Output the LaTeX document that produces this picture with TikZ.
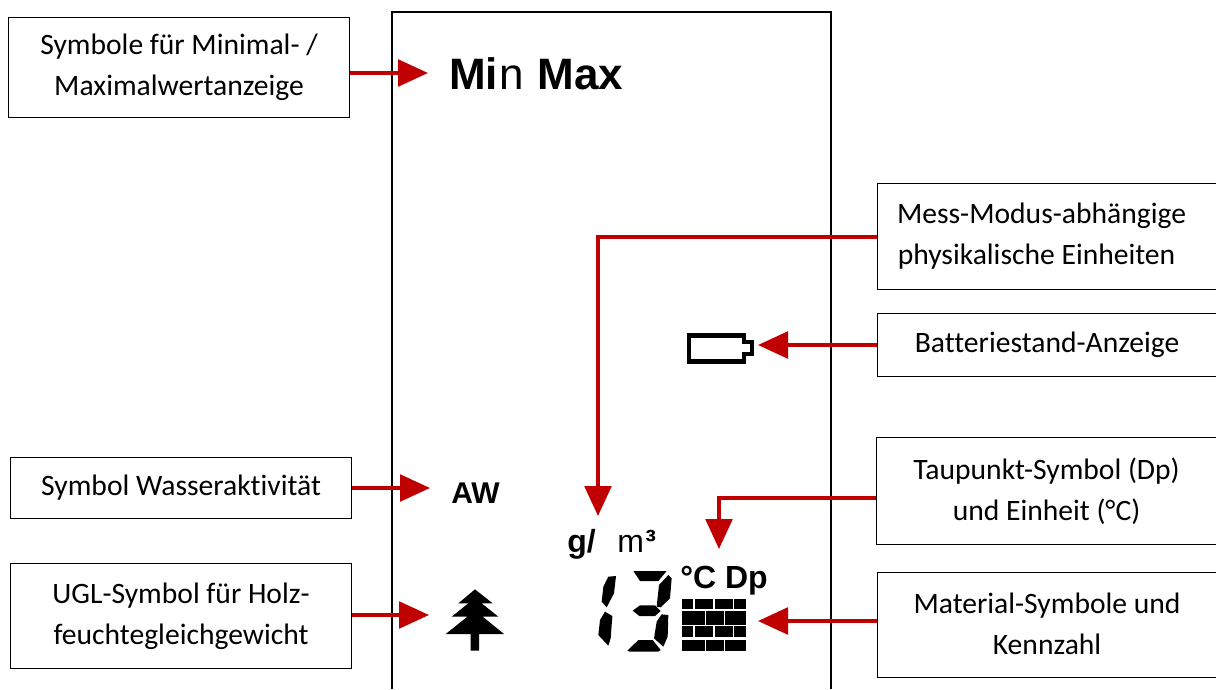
\documentclass[tikz,border=0pt]{standalone}
\usepackage{fontspec}
\setmainfont[Ligatures=NoCommon]{Carlito}
\newfontfamily\lcdfont{Liberation Sans}
\usetikzlibrary{arrows.meta}
\definecolor{arrowred}{RGB}{192,0,0}
\tikzset{
  labelbox/.style={draw=black,line width=1.1pt*0.75,fill=white,align=center,font=\fontsize{22.2}{30.75}\selectfont,inner sep=0pt,anchor=north west},
  pointer/.style={draw=arrowred,line width=2.7pt,-{Triangle[length=22.5pt,width=20pt]}},
  lcdtext/.style={font=\lcdfont\bfseries,inner sep=0pt,text=black},
  lcdseg/.style={fill=black,draw=none}
}
\newcommand{\labelbox}[5]{\node[labelbox,minimum width=#3*0.75pt,minimum height=#4*0.75pt] (#1) at (#2) {#5};}
\begin{document}
\begin{tikzpicture}[x=0.75pt,y=-0.75pt]
\useasboundingbox (0,0) rectangle (1216,689);
\draw[black,line width=1.3pt] (392,689) -- (392,12) -- (831,12) -- (831,689);

\labelbox{minmaxbox}{8,17}{341}{100}{\raisebox{2.2pt}{Symbole für Minimal- /}\\\raisebox{2.2pt}{Maximalwertanzeige}}
\labelbox{physbox}{877,183}{340}{106}{Mess-Modus-abhängige\hspace*{9pt}\\physikalische Einheiten\hspace*{16.5pt}}
\labelbox{battbox}{877,313}{339}{63}{Batteriestand-Anzeige}
\labelbox{dewbox}{876,437}{340}{107}{Taupunkt-Symbol (Dp)\\und Einheit (°C)}
\labelbox{matbox}{877,572}{339}{105}{\raisebox{1.5pt}{Material-Symbole und}\\\raisebox{1.5pt}{Kennzahl}}
\labelbox{awbox}{10,457}{341}{61}{Symbol Wasseraktivität}
\labelbox{uglbox}{10,563}{341}{105}{UGL-Symbol für Holz-\\feuchtegleichgewicht}

\node[lcdtext,font=\lcdfont\fontsize{33}{33}\selectfont,anchor=base west] (minmax) at (449,89) {\textbf{Mi}\kern1pt n\kern1.2pt\ \textbf{Max}};
\node[lcdtext,font=\lcdfont\bfseries\fontsize{22.5}{22}\selectfont,anchor=base west] (aw) at (451,503) {AW};
\node[lcdtext,font=\lcdfont\bfseries\fontsize{24}{24}\selectfont,anchor=base west] (gs) at (567,552) {g/};
\node[lcdtext,font=\lcdfont\fontsize{24}{24}\selectfont,anchor=base west] (m3) at (617,552) {m\kern1pt\textbf{³}};
\node[lcdtext,font=\lcdfont\bfseries\fontsize{24}{24}\selectfont,anchor=base west] (cdp) at (680,588) {°C Dp};

% tree
\begin{scope}[shift={(440,580)},x=0.25pt,y=-0.25pt]
\fill[black] (105,28)--(158,70)--(125,70)--(175,110)--(128,110)--(192,162)--(117,162)--(117,212)--(92,212)--(92,162)--(17,162)--(82,110)--(35,110)--(85,70)--(55,70)--cycle;
\end{scope}
% battery
\begin{scope}[shift={(670,320)},x=0.25pt,y=-0.25pt]
\draw[black,line width=3.4pt,miter limit=4] (57,46)--(222,46)--(222,66)--(246,66)--(246,102)--(222,102)--(222,124)--(57,124)--cycle;
\end{scope}
% digits and bricks
\begin{scope}[shift={(540,500)},x=0.25pt,y=-0.25pt]
\fill[lcdseg] (205,230)--(228,228)--(222,280)--(200,322)--(185,305)--(190,260)--cycle;
\fill[lcdseg] (195,335)--(217,348)--(212,415)--(205,437)--(175,405)--(180,360)--cycle;
\fill[lcdseg] (280,213)--(380,213)--(355,243)--(300,243)--cycle;
\fill[lcdseg] (385,225)--(395,235)--(390,295)--(362,322)--(350,320)--(357,255)--cycle;
\fill[lcdseg] (278,332)--(300,316)--(345,316)--(362,333)--(345,348)--(298,348)--cycle;
\fill[lcdseg] (365,343)--(385,345)--(383,410)--(370,440)--(342,415)--(350,365)--cycle;
\fill[lcdseg] (262,452)--(295,420)--(338,420)--(362,450)--(355,455)--(270,455)--cycle;
\foreach \a/\b in {426/460,466/519,525/579,583/619}{
  \fill[lcdseg] (\a,296) rectangle (\b,327);
  \fill[lcdseg] (\a,378) rectangle (\b,410);
}
\foreach \a/\b in {426/494,498/552,555/619}{
  \fill[lcdseg] (\a,334) rectangle (\b,374);
  \fill[lcdseg] (\a,420) rectangle (\b,454);
}
\end{scope}

% free ends of connectors
\coordinate (minmaxtip) at (428,73);
\coordinate (awtip) at (430,488);
\coordinate (ugltip) at (429,615);
\coordinate (batttip) at (758,345);
\coordinate (mattip) at (758,621);
\coordinate (gtip) at (598,516);
\coordinate (dewtip) at (719,549);

\draw[pointer] (minmaxbox.east |- minmaxtip) -- (minmaxtip);
\draw[pointer] (awbox.east |- awtip) -- (awtip);
\draw[pointer] (uglbox.east |- ugltip) -- (ugltip);
\draw[pointer] (battbox.west |- batttip) -- (batttip);
\draw[pointer] (matbox.west |- mattip) -- (mattip);
\coordinate (physstart) at (physbox.west |- 0,237);
\draw[pointer] (physstart) -- (gtip |- physstart) -- (gtip);
\coordinate (dewstart) at (dewbox.west |- 0,498);
\draw[pointer] (dewstart) -- (dewtip |- dewstart) -- (dewtip);
\end{tikzpicture}
\end{document}
